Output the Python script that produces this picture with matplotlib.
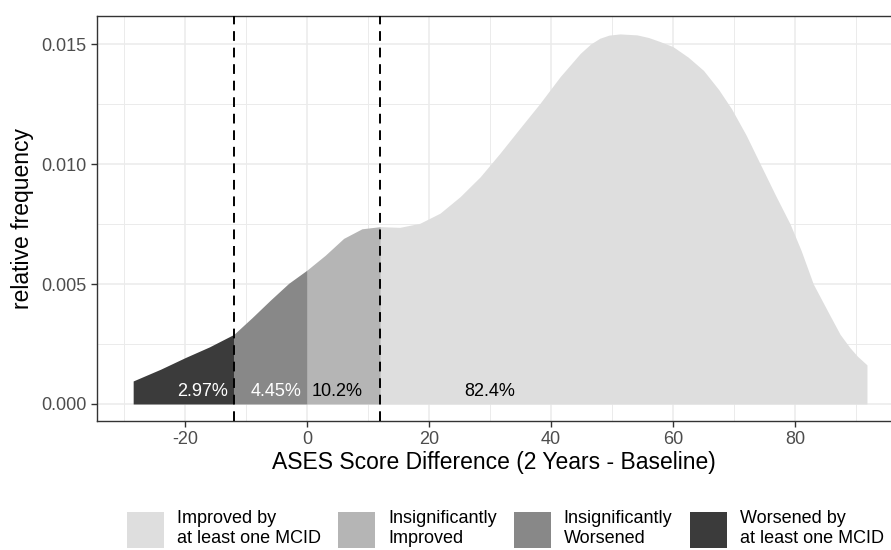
import matplotlib.pyplot as plt
from matplotlib.patches import Patch
from matplotlib.ticker import MultipleLocator

plt.rcParams['font.family'] = ['Liberation Sans', 'DejaVu Sans']
plt.rcParams['axes.unicode_minus'] = False

# density curve
score_diff = [-28.5, -24, -20, -16, -12, -9, -6, -3, 0, 3, 6, 9, 12, 15.2, 18.5,
              21.8, 25.1, 28.4, 31.6, 34.9, 38.2, 41.5, 44.8, 46.5, 48, 49.5, 51.3,
              54.1, 56, 57.9, 60, 62.5, 65, 67.5, 69.6, 72, 74.3, 76.8, 79.2, 81,
              83, 85.5, 87.4, 89, 90.2, 91.8]
rel_freq = [0.00096, 0.00145, 0.00193, 0.00238, 0.0029, 0.0036, 0.00433, 0.00503,
            0.00558, 0.0062, 0.0069, 0.0073, 0.00739, 0.00736, 0.00753, 0.00795,
            0.00864, 0.00947, 0.01044, 0.01149, 0.01253, 0.01364, 0.01461,
            0.01500, 0.01524, 0.01537, 0.01542, 0.01538, 0.01527, 0.0151, 0.01489,
            0.01445, 0.0139, 0.0131, 0.0123, 0.0112, 0.0100, 0.0087, 0.0075,
            0.0064, 0.0050, 0.0038, 0.0029, 0.00235, 0.0020, 0.00163]

mcid = 12
groups = ['Improved by\nat least one MCID', 'Insignificantly\nImproved',
          'Insignificantly\nWorsened', 'Worsened by\nat least one MCID']
group_ranges = [(12, 100), (0, 12), (-12, 0), (-100, -12)]
group_colors = ['#DEDEDE', '#B5B5B5', '#888888', '#3B3B3B']
pct_labels = ['82.4%', '10.2%', '4.45%', '2.97%']
pct_x = [30, 4.9, -5.1, -17.2]
pct_colors = ['black', 'black', 'white', 'white']

fig = plt.figure(figsize=(8.91, 5.5), dpi=100)
ax = fig.add_axes([97 / 891, 1 - 420.7 / 550, 1 - 97 / 891, (420.7 - 16) / 550])

for (lo, hi), col in zip(group_ranges, group_colors):
    xs = [x for x in score_diff if lo <= x <= hi]
    ys = [y for x, y in zip(score_diff, rel_freq) if lo <= x <= hi]
    ax.fill_between(xs, 0, ys, color=col, linewidth=0, zorder=2)

for lab, x, c in zip(pct_labels, pct_x, pct_colors):
    ax.text(x, 0.0005, lab, ha='center', va='center', fontsize=13, color=c, zorder=4)

for v in (-mcid, mcid):
    ax.axvline(v, color='black', lw=1.4, linestyle=(0, (5, 3.5)), zorder=3)

ax.set_xlim(-34.43, 95.74)
ax.set_ylim(-0.000696, 0.016167)
ax.xaxis.set_major_locator(MultipleLocator(20))
ax.xaxis.set_minor_locator(MultipleLocator(10))
ax.yaxis.set_major_locator(MultipleLocator(0.005))
ax.yaxis.set_minor_locator(MultipleLocator(0.0025))
ax.yaxis.set_major_formatter(lambda v, p: f'{v:.3f}')
ax.grid(True, which='major', color='#EBEBEB', lw=1.1, zorder=0)
ax.grid(True, which='minor', color='#EBEBEB', lw=0.7, zorder=0)
ax.set_axisbelow(True)
ax.tick_params(which='major', labelsize=13, labelcolor='#4D4D4D', color='#333333',
               length=4, width=1)
ax.tick_params(which='minor', length=0)
ax.spines['right'].set_visible(False)
for s in ('left', 'bottom', 'top'):
    ax.spines[s].set_color('#333333')
    ax.spines[s].set_linewidth(1.0)

ax.set_xlabel('ASES Score Difference (2 Years - Baseline)', fontsize=16.5, labelpad=2)
ax.set_ylabel('relative frequency', fontsize=16.5, labelpad=5)

handles = [Patch(facecolor=c, edgecolor='none') for c in group_colors]
fig.legend(handles, groups, loc='center', bbox_to_anchor=(0.567, 0.038), ncol=4,
           frameon=False, fontsize=13, handlelength=2.05, handleheight=2.69,
           handletextpad=0.72, columnspacing=0.95, borderpad=0, labelspacing=0)

fig.savefig('out.png', dpi=100)
